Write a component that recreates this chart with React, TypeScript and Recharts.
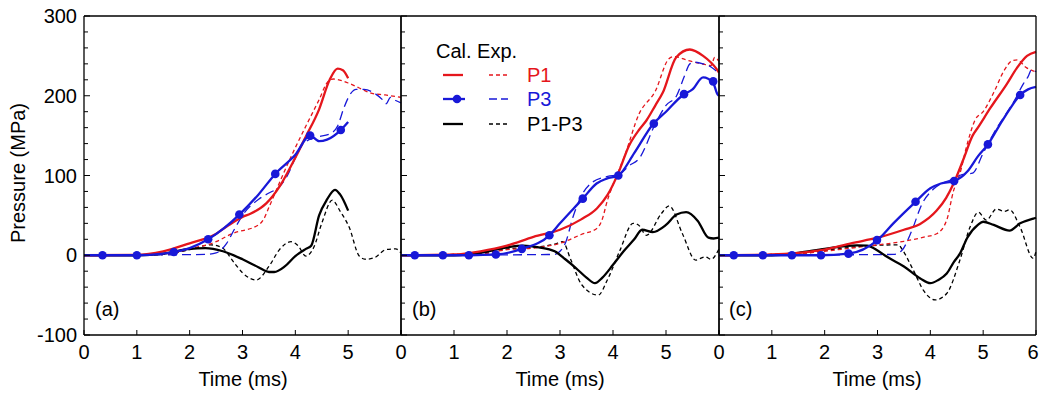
import React from "react";
import { LineChart, Line, XAxis, YAxis } from "recharts";

type Pt = [number, number];

// time (ms) , pressure (MPa)
const xTicks = [0, 1, 2, 3, 4, 5, 6];
const yTicks = [-100, -80, -60, -40, -20, 0, 20, 40, 60, 80, 100, 120, 140, 160, 180, 200, 220, 240, 260, 280, 300];
const yLabels = [-100, 0, 100, 200, 300];

// panel (a)
const calP1A: Pt[] = [[0, 0], [1.0, 0.5], [1.5, 5], [2.0, 15], [2.45, 25], [2.7, 36], [3.0, 48], [3.15, 52], [3.45, 65], [3.7, 86], [3.95, 116], [4.2, 149], [4.45, 183], [4.65, 220], [4.8, 234], [4.9, 232], [5.0, 222]];
const expP1A: Pt[] = [[0, 0], [1.5, 1], [2.0, 8], [2.5, 17], [2.8, 27], [3.3, 38], [3.4, 45], [3.5, 60], [3.7, 91], [3.95, 128], [4.2, 162], [4.45, 195], [4.62, 218], [4.72, 221], [5.0, 216], [5.2, 210], [5.45, 203], [5.7, 201], [6.0, 198]];
const calP3A: Pt[] = [[0, 0], [1.0, 0], [1.5, 2], [1.7, 4], [2.0, 9], [2.35, 20], [2.65, 34], [2.94, 51], [3.3, 76], [3.62, 102], [4.0, 126], [4.28, 150], [4.45, 143], [4.6, 145], [4.86, 157], [5.0, 167]];
const marksP3A: Pt[] = [[0.35, 0], [1.0, 0], [1.7, 4], [2.35, 20], [2.94, 51], [3.62, 102], [4.28, 150], [4.86, 157]];
const expP3A: Pt[] = [[0, 0], [2.3, 1], [2.5, 3], [2.7, 15], [2.85, 33], [3.0, 50], [3.3, 70], [3.5, 78], [3.7, 86], [3.85, 100], [4.0, 122], [4.15, 140], [4.4, 148], [4.65, 152], [4.8, 162], [4.92, 185], [5.05, 203], [5.15, 208], [5.3, 208], [5.5, 203], [5.65, 195], [5.72, 190], [5.8, 198], [5.9, 194], [6.0, 191]];
const calDA: Pt[] = [[0, 0], [1.0, 0], [1.5, 2], [2.0, 8], [2.3, 9], [2.63, 5], [3.0, -5], [3.3, -15], [3.5, -21], [3.6, -21], [3.8, -14], [4.0, -1], [4.2, 8], [4.3, 12], [4.45, 50], [4.6, 70], [4.75, 82], [4.85, 76], [5.0, 56]];
const expDA: Pt[] = [[0, 0], [1.5, 1], [2.0, 7], [2.4, 13], [2.6, 10], [2.85, -10], [3.0, -22], [3.26, -31], [3.5, -14], [3.7, 7], [3.92, 17], [4.05, 12], [4.2, -1], [4.35, 10], [4.5, 40], [4.7, 69], [4.85, 55], [5.02, 35], [5.21, -1], [5.33, -5], [5.5, -3], [5.71, 7], [5.9, 8], [6.0, 3]];

// panel (b)
const calP1B: Pt[] = [[0, 0], [1.0, 1], [1.5, 5], [2.0, 12], [2.5, 23], [3.0, 32], [3.4, 45], [3.7, 59], [3.9, 76], [4.1, 103], [4.3, 137], [4.5, 158], [4.63, 169], [4.8, 188], [4.94, 204], [5.19, 248], [5.45, 258], [5.7, 250], [5.96, 233], [6.0, 229]];
const expP1B: Pt[] = [[0, 0], [1.5, 2], [2.0, 7], [2.5, 9], [3.0, 15], [3.4, 26], [3.7, 34], [3.78, 42], [3.9, 70], [4.1, 105], [4.21, 123], [4.49, 177], [4.8, 206], [5.05, 246], [5.15, 249], [5.43, 244], [5.68, 240], [5.85, 238], [5.92, 248], [6.0, 243]];
const calP3B: Pt[] = [[0, 0], [1.3, 0], [1.8, 1], [2.28, 8], [2.8, 25], [3.0, 40], [3.43, 71], [3.69, 90], [3.88, 96], [4.1, 100], [4.4, 128], [4.75, 164], [5.0, 180], [5.32, 201], [5.5, 208], [5.7, 223], [5.89, 216], [5.97, 202], [6.0, 200]];
const marksP3B: Pt[] = [[0.26, 0], [0.79, 0], [1.28, 0], [1.79, 1], [2.28, 8], [2.8, 25], [3.43, 71], [4.1, 100], [4.77, 165], [5.34, 202], [5.89, 218]];
const expP3B: Pt[] = [[0, 0], [2.9, 1], [3.0, 5], [3.1, 15], [3.25, 49], [3.4, 74], [3.6, 91], [3.9, 99], [4.1, 101], [4.3, 112], [4.5, 122], [4.8, 165], [5.0, 188], [5.2, 200], [5.35, 225], [5.45, 240], [5.55, 242], [5.7, 240], [5.85, 236], [6.0, 228]];
const calDB: Pt[] = [[0, 0], [1.0, 0], [1.5, 3], [2.0, 10], [2.3, 12], [2.6, 10], [2.9, 5], [3.1, -5], [3.3, -16], [3.5, -28], [3.66, -35], [3.8, -28], [4.0, -12], [4.2, 5], [4.4, 20], [4.55, 32], [4.75, 29], [5.0, 38], [5.2, 51], [5.38, 54], [5.6, 43], [5.8, 22], [5.9, 21], [6.0, 22]];
const expDB: Pt[] = [[0, 0], [1.5, 2], [2.0, 8], [2.5, 10], [2.9, 14], [3.05, 17], [3.2, -5], [3.41, -37], [3.72, -50], [3.9, -30], [4.13, 6], [4.38, 40], [4.48, 38], [4.63, 25], [4.91, 52], [5.06, 62], [5.31, 27], [5.56, -6], [5.74, -2], [5.85, -5], [6.0, 8]];

// panel (c)
const calP1C: Pt[] = [[0, 0], [1.0, 1], [1.5, 3], [2.0, 7], [2.5, 15], [3.0, 22], [3.5, 32], [3.8, 39], [4.12, 56], [4.3, 72], [4.44, 90], [4.63, 121], [4.8, 150], [4.9, 160], [5.14, 185], [5.45, 215], [5.64, 235], [5.83, 250], [6.0, 255]];
const expP1C: Pt[] = [[0, 0], [1.5, 2], [2.0, 5], [2.5, 9], [3.0, 13], [3.5, 17.5], [3.9, 23], [4.12, 27], [4.31, 44], [4.44, 81], [4.55, 100], [4.7, 140], [4.85, 170], [5.0, 180], [5.2, 204], [5.4, 232], [5.55, 244], [5.65, 245], [5.8, 236], [6.0, 230]];
const calP3C: Pt[] = [[0, 0], [1.9, 0], [2.45, 2], [3.0, 19], [3.3, 40], [3.72, 67], [4.0, 84], [4.2, 90], [4.45, 93], [4.7, 105], [4.9, 124], [5.09, 139], [5.3, 162], [5.5, 183], [5.7, 201], [5.85, 208], [6.0, 211]];
const marksP3C: Pt[] = [[0.28, 0], [0.83, 0], [1.38, 0], [1.93, 0], [2.45, 2], [2.99, 19], [3.72, 67], [4.45, 93], [5.09, 139], [5.7, 201]];
const expP3C: Pt[] = [[0, 0], [3.3, 1], [3.46, 6], [3.65, 31], [3.84, 64], [4.06, 83], [4.4, 95], [4.6, 101], [4.8, 103], [5.0, 128], [5.2, 153], [5.4, 174], [5.6, 195], [5.76, 215], [5.85, 224], [5.92, 233], [6.0, 230]];
const calDC: Pt[] = [[0, 0], [1.0, 0], [1.5, 3], [2.0, 8], [2.61, 12.5], [2.8, 12], [3.0, 6], [3.18, -2], [3.5, -14], [3.81, -29], [4.0, -35], [4.15, -31], [4.31, -23], [4.45, -8], [4.56, 2], [4.7, 22], [4.9, 38], [5.0, 42], [5.2, 38], [5.5, 31], [5.7, 40], [5.95, 46], [6.0, 47]];
const expDC: Pt[] = [[0, 0], [1.5, 2], [2.0, 6], [2.5, 10], [3.0, 12.5], [3.4, 13], [3.46, 8], [3.68, -19], [3.87, -44], [4.09, -56], [4.31, -48], [4.56, -6], [4.75, 35], [4.91, 54], [5.06, 44], [5.25, 58], [5.4, 55], [5.5, 57], [5.7, 35], [5.95, -4], [6.0, 5]];

const RED = "#e5161c";
const BLUE = "#1818d8";
const FONT = "'Liberation Sans', Arial, sans-serif";

const pts = (a: Pt[]) => a.map(([t, p]) => ({ t, p }));

// plot areas in page pixels: a 84-401, b 401-719, c 719-1036 ; y 16-335
const panels = [
  { key: "a", left: 84, right: 1040 - 401, showY: true, showLast: false, calP1: calP1A, expP1: expP1A, calP3: calP3A, marks: marksP3A, expP3: expP3A, calD: calDA, expD: expDA },
  { key: "b", left: 401, right: 1040 - 719, showY: false, showLast: false, calP1: calP1B, expP1: expP1B, calP3: calP3B, marks: marksP3B, expP3: expP3B, calD: calDB, expD: expDB },
  { key: "c", left: 719, right: 1040 - 1036, showY: false, showLast: true, calP1: calP1C, expP1: expP1C, calP3: calP3C, marks: marksP3C, expP3: expP3C, calD: calDC, expD: expDC },
];

const bottomTick = (showLast: boolean) => (props: any) => {
  const { x, y, payload } = props;
  const v = payload.value;
  // last label of the right panel sits at the page edge, nudge it in
  const lx = v === 6 ? x - 3 : x;
  return (
    <g>
      <line x1={x} x2={x} y1={y} y2={y - 5} stroke="#000" />
      {(showLast || v !== 6) && (
        <text x={lx} y={y + 24} textAnchor="middle" fontSize={20} fontFamily={FONT} fill="#000">
          {v}
        </text>
      )}
    </g>
  );
};

const topTick = (props: any) => {
  const { x, y } = props;
  return <line x1={x} x2={x} y1={y} y2={y + 5} stroke="#000" />;
};

const leftTick = (showY: boolean) => (props: any) => {
  const { x, y, payload } = props;
  const major = yLabels.includes(payload.value);
  return (
    <g>
      <line x1={x} x2={x + (major ? 6 : 4)} y1={y} y2={y} stroke="#000" />
      {showY && major && (
        <text x={x - 7} y={y + 7} textAnchor="end" fontSize={20} fontFamily={FONT} fill="#000">
          {payload.value}
        </text>
      )}
    </g>
  );
};

const rightTick = (props: any) => {
  const { x, y, payload } = props;
  const major = yLabels.includes(payload.value);
  return <line x1={x} x2={x - (major ? 6 : 4)} y1={y} y2={y} stroke="#000" />;
};

const axisLine = { stroke: "#000", strokeWidth: 1.3 };

function Panel({ cfg }: { cfg: (typeof panels)[number] }) {
  // axes are 1px thick, so margins are reduced by 1
  return (
    <LineChart
      width={1040}
      height={396}
      margin={{ top: 15, bottom: 60, left: cfg.left - 1, right: cfg.right - 1 }}
      style={{ position: "absolute", left: 0, top: 0 }}
    >
      <XAxis dataKey="t" type="number" domain={[0, 6]} ticks={xTicks} interval={0} height={1} tickSize={0} tickMargin={0} axisLine={axisLine} tickLine={false} tick={bottomTick(cfg.showLast)} />
      <XAxis xAxisId="top" orientation="top" dataKey="t" type="number" domain={[0, 6]} ticks={xTicks} interval={0} height={1} tickSize={0} tickMargin={0} axisLine={axisLine} tickLine={false} tick={topTick} />
      <YAxis type="number" domain={[-100, 300]} ticks={yTicks} interval={0} width={1} tickSize={0} tickMargin={0} axisLine={axisLine} tickLine={false} tick={leftTick(cfg.showY)} />
      <YAxis yAxisId="r" orientation="right" type="number" domain={[-100, 300]} ticks={yTicks} interval={0} width={1} tickSize={0} tickMargin={0} axisLine={axisLine} tickLine={false} tick={rightTick} />
      <Line data={pts(cfg.expD)} dataKey="p" type="monotone" stroke="#000" strokeWidth={1.3} strokeDasharray="4 3" dot={false} isAnimationActive={false} />
      <Line data={pts(cfg.expP1)} dataKey="p" type="monotone" stroke={RED} strokeWidth={1.3} strokeDasharray="4 3" dot={false} isAnimationActive={false} />
      <Line data={pts(cfg.expP3)} dataKey="p" type="monotone" stroke={BLUE} strokeWidth={1.3} strokeDasharray="9 5" dot={false} isAnimationActive={false} />
      <Line data={pts(cfg.calD)} dataKey="p" type="monotone" stroke="#000" strokeWidth={2.3} dot={false} isAnimationActive={false} />
      <Line data={pts(cfg.calP1)} dataKey="p" type="monotone" stroke={RED} strokeWidth={2.3} dot={false} isAnimationActive={false} />
      <Line data={pts(cfg.calP3)} dataKey="p" type="monotone" stroke={BLUE} strokeWidth={2.3} dot={false} isAnimationActive={false} />
      <Line data={pts(cfg.marks)} dataKey="p" stroke="none" dot={{ r: 4.3, fill: BLUE, stroke: BLUE, strokeWidth: 0 }} isAnimationActive={false} />
    </LineChart>
  );
}

export default function App() {
  const txt = { fontSize: 20, fontFamily: FONT, fill: "#000" };
  return (
    <div style={{ position: "relative", width: 1040, height: 396, background: "#fff", overflow: "hidden" }}>
      <style>{`body{margin:0}`}</style>
      {panels.map((cfg) => (
        <Panel key={cfg.key} cfg={cfg} />
      ))}
      <svg width={1040} height={396} style={{ position: "absolute", left: 0, top: 0, pointerEvents: "none" }}>
        <text {...txt} textAnchor="middle" transform="translate(25,173) rotate(-90)">Pressure (MPa)</text>
        <text {...txt} x={243} y={386} textAnchor="middle">Time (ms)</text>
        <text {...txt} x={560} y={386} textAnchor="middle">Time (ms)</text>
        <text {...txt} x={877} y={386} textAnchor="middle">Time (ms)</text>
        <text {...txt} x={95} y={316}>(a)</text>
        <text {...txt} x={412} y={316}>(b)</text>
        <text {...txt} x={729} y={316}>(c)</text>
        {/* legend */}
        <text {...txt} x={436} y={58}>Cal. Exp.</text>
        <line x1={443} x2={463} y1={75} y2={75} stroke={RED} strokeWidth={2.3} />
        <line x1={489} x2={508} y1={75} y2={75} stroke={RED} strokeWidth={1.3} strokeDasharray="4 3" />
        <text {...txt} x={527} y={82} fill={RED}>P1</text>
        <line x1={443} x2={465} y1={99} y2={99} stroke={BLUE} strokeWidth={2.3} />
        <circle cx={457} cy={99} r={4.3} fill={BLUE} />
        <line x1={489} x2={508} y1={99} y2={99} stroke={BLUE} strokeWidth={1.3} strokeDasharray="8 4" />
        <text {...txt} x={527} y={106} fill={BLUE}>P3</text>
        <line x1={443} x2={463} y1={124} y2={124} stroke="#000" strokeWidth={2.3} />
        <line x1={489} x2={508} y1={124} y2={124} stroke="#000" strokeWidth={1.3} strokeDasharray="4 3" />
        <text {...txt} x={527} y={131}>P1-P3</text>
      </svg>
    </div>
  );
}
